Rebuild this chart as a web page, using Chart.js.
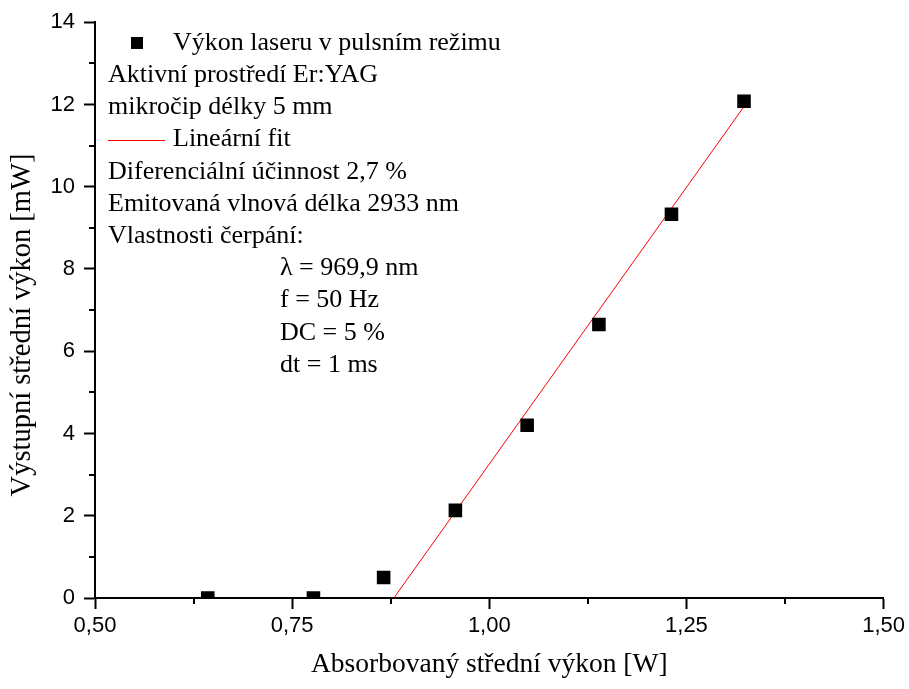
<!DOCTYPE html>
<html><head><meta charset="utf-8">
<script src="https://cdn.jsdelivr.net/npm/chart.js@4.4.0/dist/chart.umd.min.js"></script>
<style>html,body{margin:0;padding:0;background:#fff}canvas{display:block}</style>
</head><body>
<canvas id="c" width="909" height="689"></canvas>
<script>
// ---- data ----
const absorbedPower = [0.643, 0.777, 0.866, 0.957, 1.048, 1.139, 1.231, 1.323];
const outputPower   = [0, 0, 0.5, 2.13, 4.2, 6.65, 9.33, 12.08];
const fitX = [0.879, 1.323];
const fitY = [0, 11.95];
const xMajorTicks = [0.5, 0.75, 1.0, 1.25, 1.5];
const yMajorTicks = [0, 2, 4, 6, 8, 10, 12, 14];
const seriesLabel = 'Výkon laseru v pulsním režimu';
const fitLabel = 'Lineární fit';
const infoLines = ['Aktivní prostředí Er:YAG', 'mikročip délky 5 mm'];
const fitInfoLines = ['Diferenciální účinnost 2,7 %', 'Emitovaná vlnová délka 2933 nm', 'Vlastnosti čerpání:'];
const pumpLines = ['λ = 969,9 nm', 'f = 50 Hz', 'DC = 5 %', 'dt = 1 ms'];
const xTitle = 'Absorbovaný střední výkon [W]';
const yTitle = 'Výstupní střední výkon [mW]';

const isMajor = (list, v) => list.some(t => Math.abs(t - v) < 1e-6);

const overlay = {
  id: 'overlay',
  afterDraw(chart) {
    const ctx = chart.ctx;
    const xs = chart.scales.x, ys = chart.scales.y;
    ctx.save();
    // minor ticks
    ctx.strokeStyle = '#000'; ctx.lineWidth = 2;
    xs.ticks.forEach(t => {
      if (!isMajor(xMajorTicks, t.value)) {
        const px = Math.round(xs.getPixelForValue(t.value));
        ctx.beginPath(); ctx.moveTo(px, xs.top); ctx.lineTo(px, xs.top + 6); ctx.stroke();
      }
    });
    ys.ticks.forEach(t => {
      if (!isMajor(yMajorTicks, t.value)) {
        const py = Math.round(ys.getPixelForValue(t.value));
        ctx.beginPath(); ctx.moveTo(ys.right, py); ctx.lineTo(ys.right - 6, py); ctx.stroke();
      }
    });
    // y axis title
    ctx.fillStyle = '#000';
    ctx.font = '28.5px "Liberation Serif", "Times New Roman", serif';
    ctx.translate(23, 325); ctx.rotate(-Math.PI / 2);
    ctx.textAlign = 'center'; ctx.textBaseline = 'middle';
    ctx.fillText(yTitle, 0, 0);
    ctx.restore();

    // legend / annotation block
    ctx.save();
    ctx.fillStyle = '#000';
    ctx.font = '26px "Liberation Serif", "Times New Roman", serif';
    ctx.textAlign = 'left'; ctx.textBaseline = 'middle';
    const lineY = i => 43 + 32.2 * i;
    let i = 0;
    ctx.fillRect(131, lineY(i) - 6, 12, 12);
    ctx.fillText(seriesLabel, 173, lineY(i)); i++;
    infoLines.forEach(s => { ctx.fillText(s, 108, lineY(i)); i++; });
    ctx.strokeStyle = '#ff0000'; ctx.lineWidth = 1;
    ctx.beginPath(); ctx.moveTo(108, Math.round(lineY(i)) + 0.5); ctx.lineTo(165, Math.round(lineY(i)) + 0.5); ctx.stroke();
    ctx.fillText(fitLabel, 173, lineY(i)); i++;
    fitInfoLines.forEach(s => { ctx.fillText(s, 108, lineY(i)); i++; });
    pumpLines.forEach(s => { ctx.fillText(s, 280, lineY(i)); i++; });
    ctx.restore();
  }
};

new Chart(document.getElementById('c'), {
  type: 'scatter',
  data: {
    datasets: [
      {
        label: seriesLabel,
        data: absorbedPower.map((x, k) => ({ x, y: outputPower[k] })),
        pointStyle: 'rect',
        pointRadius: 9.6,
        pointHoverRadius: 9.6,
        backgroundColor: '#000',
        borderColor: '#000',
        borderWidth: 0,
        clip: 0,
        order: 1
      },
      {
        label: fitLabel,
        data: fitX.map((x, k) => ({ x, y: fitY[k] })),
        showLine: true,
        borderColor: '#ff0000',
        borderWidth: 1,
        pointRadius: 0,
        fill: false,
        clip: 0,
        order: 2
      }
    ]
  },
  options: {
    responsive: false,
    animation: false,
    events: [],
    layout: { padding: { top: 20, right: 25, left: 0, bottom: 0 } },
    plugins: { legend: { display: false }, tooltip: { enabled: false } },
    scales: {
      x: {
        type: 'linear',
        min: 0.5, max: 1.5,
        afterFit: s => { s.height = 91; },
        border: { display: true, color: '#000', width: 2 },
        grid: {
          drawOnChartArea: false, drawTicks: true, tickLength: 11,
          tickWidth: 2,
          tickColor: c => isMajor(xMajorTicks, c.tick.value) ? '#000' : 'rgba(0,0,0,0)'
        },
        ticks: {
          stepSize: 0.125,
          autoSkip: false,
          maxRotation: 0,
          padding: 4,
          color: '#000',
          font: { family: '"Liberation Sans", Arial, sans-serif', size: 22 },
          callback: v => isMajor(xMajorTicks, v) ? v.toFixed(2).replace('.', ',') : ''
        },
        title: {
          display: true, text: xTitle, color: '#000',
          font: { family: '"Liberation Serif", "Times New Roman", serif', size: 27.5 },
          padding: { top: 0, bottom: 8 }
        }
      },
      y: {
        type: 'linear',
        min: 0, max: 14,
        afterFit: s => { s.width = 95; },
        border: { display: true, color: '#000', width: 2 },
        grid: {
          drawOnChartArea: false, drawTicks: true, tickLength: 11,
          tickWidth: 2,
          tickColor: c => isMajor(yMajorTicks, c.tick.value) ? '#000' : 'rgba(0,0,0,0)'
        },
        ticks: {
          stepSize: 1,
          autoSkip: false,
          padding: 9,
          color: '#000',
          font: { family: '"Liberation Sans", Arial, sans-serif', size: 22 },
          callback: v => isMajor(yMajorTicks, v) ? String(v) : ''
        }
      }
    }
  },
  plugins: [overlay]
});
</script>
</body></html>
